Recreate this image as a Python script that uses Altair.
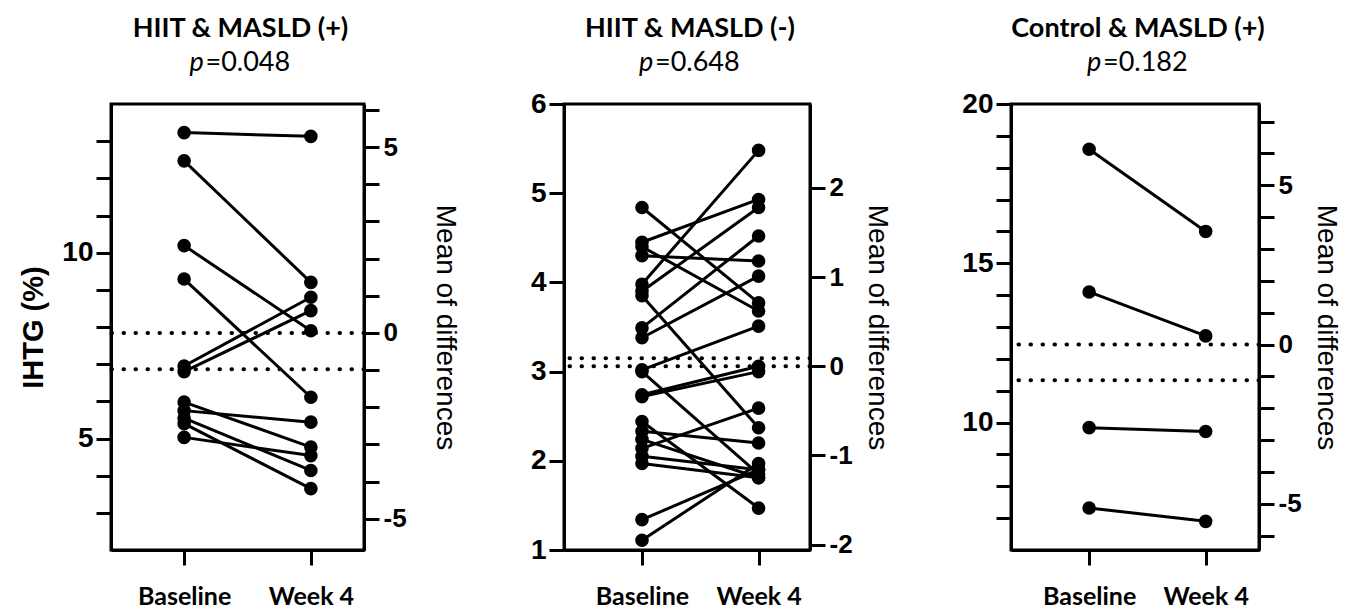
import altair as alt
import pandas as pd

# ---------------- data ----------------
titles = ["HIIT & MASLD (+)", "HIIT & MASLD (-)", "Control & MASLD (+)"]
p_texts = ["=0.048", "=0.648", "=0.182"]
time_labels = ["Baseline", "Week 4"]

p1_baseline = [13.23, 12.47, 10.19, 9.29, 6.95, 6.80, 5.98, 5.75, 5.55, 5.40, 5.03]
p1_week4 = [13.13, 9.20, 7.90, 6.11, 8.80, 8.44, 4.77, 5.44, 4.14, 3.65, 4.54]

p2_baseline = [4.84, 4.45, 4.40, 4.30, 3.98, 3.90, 3.85, 3.49, 3.38, 3.02, 3.00,
               2.74, 2.72, 2.44, 2.33, 2.24, 2.14, 2.05, 1.97, 1.34, 1.11]
p2_week4 = [3.77, 4.93, 3.68, 4.24, 5.48, 4.84, 2.37, 4.52, 4.07, 3.51, 1.85,
            3.06, 3.00, 1.47, 2.20, 1.81, 2.59, 1.90, 1.81, 1.90, 1.97]

p3_baseline = [18.58, 14.10, 9.84, 7.32]
p3_week4 = [16.00, 12.72, 9.72, 6.90]

# left-axis level where the "mean of differences" axis is zero, and the mean difference
zero_levels = [7.84, 3.06, 12.45]
mean_diffs = [-0.98, 0.09, -1.12]

left_domains = [[2, 14], [1, 6], [6, 20]]
left_ticks = [list(range(3, 14)), list(range(1, 7)), list(range(7, 21))]
right_ticks = [list(range(-5, 7)), list(range(-2, 3)), list(range(-6, 8))]
label_steps = [5, 1, 5]

# ---------------- styling / layout ----------------
widths = [253, 246, 248]
HEIGHT = 446
x_fracs = [(0.289, 0.790), (0.317, 0.791), (0.315, 0.785)]
right_title_pad = [24, 10, 10]

TICK_FONT = "Liberation Sans"
TEXT_FONT = "Lato"
LW = 3


def panel(i, base, wk):
    n = len(base)
    df = pd.DataFrame({
        "subject": list(range(n)) * 2,
        "time": [time_labels[0]] * n + [time_labels[1]] * n,
        "value": base + wk,
    })
    a, b = x_fracs[i]
    span = 1.0 / (b - a)
    xdom = [-a * span, 1 + (1 - b) * span]
    step = label_steps[i]
    label_expr = f"datum.value % {step} === 0 ? '' + datum.value : ''"

    x_enc = alt.X(
        "t:Q",
        scale=alt.Scale(domain=xdom, nice=False, zero=False),
        axis=alt.Axis(
            values=[0, 1], tickCount=50,
            labelExpr=f"datum.value === 0 ? '{time_labels[0]}' : '{time_labels[1]}'",
            title=None, grid=False, tickSize=15, tickWidth=LW, domainWidth=LW,
            labelFont=TEXT_FONT, labelFontWeight="bold", labelFontSize=25,
            labelPadding=19, labelColor="black", tickColor="black", domainColor="black",
            labelOverlap=False, labelFlush=False,
        ),
    )
    y_scale = alt.Scale(domain=left_domains[i], nice=False, zero=False)
    y_axis = alt.Axis(
        values=left_ticks[i], tickCount=50, labelExpr=label_expr, grid=False,
        labelOverlap=False, labelFlush=False, labelBound=False,
        tickSize=15, tickWidth=LW, domainWidth=LW, tickColor="black", domainColor="black",
        labelFont=TICK_FONT, labelFontWeight="bold", labelFontSize=28, labelColor="black",
        labelPadding=3,
        title="IHTG (%)" if i == 0 else None,
        titleFont=TICK_FONT, titleFontWeight="bold", titleFontSize=29, titleColor="black",
        titlePadding=13,
    )
    base_chart = alt.Chart(df).transform_calculate(
        t=f"datum.time === '{time_labels[0]}' ? 0 : 1"
    )
    lines = base_chart.mark_line(color="black", strokeWidth=LW).encode(
        x=x_enc,
        y=alt.Y("value:Q", scale=y_scale, axis=y_axis),
        detail="subject:N",
    )
    points = base_chart.mark_circle(color="black", size=185, opacity=1).encode(
        x=alt.X("t:Q", scale=alt.Scale(domain=xdom, nice=False, zero=False)),
        y=alt.Y("value:Q", scale=y_scale),
    )
    data_layer = alt.layer(lines, points)

    z = zero_levels[i]
    rdom = [left_domains[i][0] - z, left_domains[i][1] - z]
    rdf = pd.DataFrame({"d": [0.0, mean_diffs[i]]})
    rules = alt.Chart(rdf).mark_rule(
        color="black", strokeWidth=4, strokeDash=[0.5, 11.5], strokeCap="round"
    ).encode(
        y=alt.Y(
            "d:Q",
            scale=alt.Scale(domain=rdom, nice=False, zero=False),
            axis=alt.Axis(
                orient="right", values=right_ticks[i], tickCount=50,
                labelExpr=label_expr, grid=False,
                labelOverlap=False, labelFlush=False, labelBound=False,
                tickSize=15, tickWidth=LW, domainWidth=LW, tickColor="black",
                domainColor="black",
                labelFont=TICK_FONT, labelFontWeight="bold", labelFontSize=26,
                labelColor="black", labelPadding=4,
                title="Mean of differences", titleFont=TICK_FONT,
                titleFontWeight="normal", titleFontSize=28, titleColor="black",
                titlePadding=right_title_pad[i],
            ),
        )
    )

    cx = widths[i] / 2
    tdf = pd.DataFrame({"title": [titles[i]], "p": ["p"], "pv": [p_texts[i]]})
    title_txt = alt.Chart(tdf).mark_text(
        font=TEXT_FONT, fontWeight="bold", fontSize=27, color="black",
        align="center", baseline="middle",
    ).encode(text="title:N", x=alt.value(cx + 3), y=alt.value(-75))
    p_txt = alt.Chart(tdf).mark_text(
        font=TEXT_FONT, fontStyle="italic", fontSize=27, color="black",
        align="left", baseline="middle",
    ).encode(text="p:N", x=alt.value(cx - 48), y=alt.value(-41))
    pv_txt = alt.Chart(tdf).mark_text(
        font=TEXT_FONT, fontSize=27, color="black",
        align="left", baseline="middle",
    ).encode(text="pv:N", x=alt.value(cx - 32), y=alt.value(-41))

    return alt.layer(rules, data_layer, title_txt, p_txt, pv_txt).resolve_scale(
        y="independent"
    ).properties(width=widths[i], height=HEIGHT)


chart = alt.hconcat(
    panel(0, p1_baseline, p1_week4),
    panel(1, p2_baseline, p2_week4),
    panel(2, p3_baseline, p3_week4),
    spacing=68,
).properties(
    padding={"left": 10, "top": 5, "right": 12, "bottom": 0},
    background="white",
).configure_view(
    stroke="black", strokeWidth=LW
)

chart.save("out.html", embed_options={"renderer": "svg", "actions": False})
